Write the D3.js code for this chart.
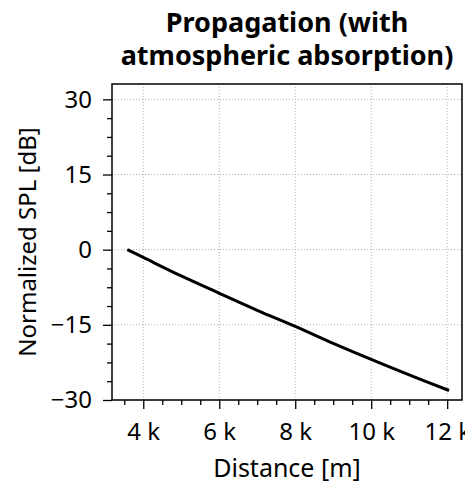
<!DOCTYPE html>
<html>
<head>
<meta charset="utf-8">
<script src="https://cdn.jsdelivr.net/npm/d3@7"></script>
<style>
  body { margin: 0; background: #fff; }
  text { font-family: "Noto Sans", "Open Sans", sans-serif; fill: #000; }
</style>
</head>
<body>
<div class="chart"></div>
<script>
// data
const distance = [3580, 4000, 5000, 6000, 7000, 8000, 9000, 10000, 11000, 12050];
const splDb = [0, -1.55, -5.25, -8.7, -12.1, -15.3, -18.7, -21.9, -25.0, -28.1];
const xTicks = [4000, 6000, 8000, 10000, 12000];
const yTicks = [-30, -15, 0, 15, 30];
const titleLines = ["Propagation (with", "atmospheric absorption)"];

const W = 465, H = 486;
const margin = { top: 84, right: 3, bottom: 86, left: 112 },
  width = W - margin.left - margin.right,
  height = H - margin.top - margin.bottom;

const svg = d3.select(".chart")
  .append("svg")
  .attr("width", W)
  .attr("height", H);

const g = svg.append("g")
  .attr("transform", `translate(${margin.left}, ${margin.top})`);

const x = d3.scaleLinear().domain([3177, 12390]).range([0, width]);
const y = d3.scaleLinear().domain([-30, 33.06]).range([height, 0]);

// grid
g.append("g")
  .selectAll("line")
  .data(xTicks)
  .join("line")
  .attr("x1", d => x(d)).attr("x2", d => x(d))
  .attr("y1", 0).attr("y2", height)
  .attr("stroke", "#b0b0b0")
  .attr("stroke-width", 1)
  .attr("stroke-dasharray", "1,2");
g.append("g")
  .selectAll("line")
  .data(yTicks)
  .join("line")
  .attr("x1", 0).attr("x2", width)
  .attr("y1", d => y(d)).attr("y2", d => y(d))
  .attr("stroke", "#b0b0b0")
  .attr("stroke-width", 1)
  .attr("stroke-dasharray", "1,2");

// minor ticks
const xMinor = d3.range(3500, 12001, 500).filter(d => !xTicks.includes(d));
const yMinor = d3.range(-30, 33, 3.75).filter(d => !yTicks.includes(d));

g.append("g")
  .attr("transform", `translate(0, ${height})`)
  .call(d3.axisBottom(x).tickValues(xMinor).tickSize(5).tickFormat(""))
  .call(a => a.select(".domain").remove())
  .selectAll("line").attr("stroke-width", 1.3);
g.append("g")
  .call(d3.axisLeft(y).tickValues(yMinor).tickSize(5).tickFormat(""))
  .call(a => a.select(".domain").remove())
  .selectAll("line").attr("stroke-width", 1.3);

// major axes
const xAxis = g.append("g")
  .attr("transform", `translate(0, ${height})`)
  .call(d3.axisBottom(x).tickValues(xTicks).tickSize(9).tickPadding(14)
    .tickFormat(d => (d / 1000) + " k"));
xAxis.select(".domain").remove();
xAxis.selectAll("line").attr("stroke-width", 1.3);
xAxis.selectAll("text").style("font-size", "24px");

const yAxis = g.append("g")
  .call(d3.axisLeft(y).tickValues(yTicks).tickSize(9).tickPadding(11)
    .tickFormat(d => d < 0 ? "\u2212" + Math.abs(d) : d));
yAxis.select(".domain").remove();
yAxis.selectAll("line").attr("stroke-width", 1.3);
yAxis.selectAll("text").style("font-size", "24px");

// frame
g.append("rect")
  .attr("width", width).attr("height", height)
  .attr("fill", "none")
  .attr("stroke", "#000")
  .attr("stroke-width", 1.5);

// curve
g.append("path")
  .datum(distance.map((d, i) => [d, splDb[i]]))
  .attr("fill", "none")
  .attr("stroke", "#000")
  .attr("stroke-width", 3)
  .attr("d", d3.line()
    .curve(d3.curveCatmullRom)
    .x(d => x(d[0]))
    .y(d => y(d[1])));

// labels
g.append("text")
  .attr("x", width / 2)
  .attr("y", height + 77)
  .attr("text-anchor", "middle")
  .style("font-size", "25px")
  .text("Distance [m]");

g.append("text")
  .attr("transform", `translate(${-margin.left + 36}, ${height / 2}) rotate(-90)`)
  .attr("text-anchor", "middle")
  .style("font-size", "24px")
  .text("Normalized SPL [dB]");

svg.append("g")
  .selectAll("text")
  .data(titleLines)
  .join("text")
  .attr("x", margin.left + width / 2)
  .attr("y", (d, i) => 32 + i * 33)
  .attr("text-anchor", "middle")
  .style("font-size", "27px")
  .style("font-weight", "bold")
  .text(d => d);
</script>
</body>
</html>
